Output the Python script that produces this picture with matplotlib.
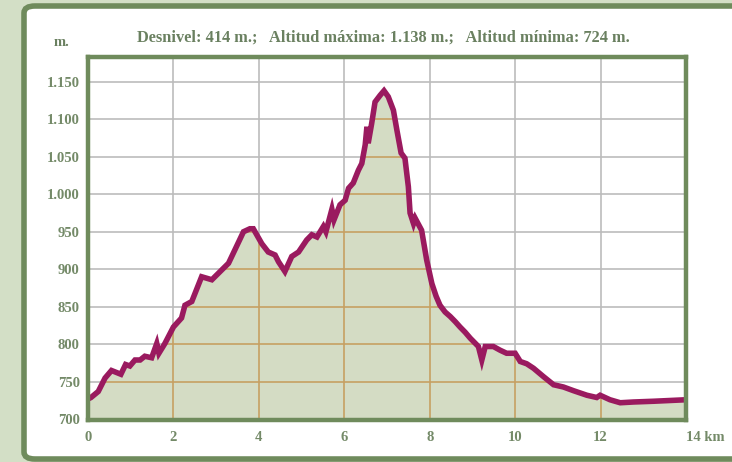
import numpy as np
import matplotlib.pyplot as plt
from matplotlib.patches import FancyBboxPatch

# perfil de altitud (km, m)
km = [0.0, 0.07, 0.24, 0.40, 0.55, 0.77, 0.88, 0.98, 1.10, 1.22, 1.33, 1.49, 1.61, 1.66,
      1.80, 2.00, 2.19, 2.27, 2.43, 2.66, 2.90, 3.13, 3.29, 3.44, 3.64, 3.79, 3.87, 4.07,
      4.22, 4.38, 4.46, 4.61, 4.77, 4.93, 5.12, 5.24, 5.36, 5.51, 5.57, 5.71, 5.76, 5.90,
      6.02, 6.10, 6.21, 6.33, 6.41, 6.49, 6.53, 6.56, 6.64, 6.72, 6.84, 6.93, 7.03, 7.15,
      7.23, 7.33, 7.42, 7.50, 7.54, 7.62, 7.66, 7.81, 7.93, 8.05, 8.15, 8.24, 8.36, 8.48,
      8.60, 8.71, 8.83, 8.95, 9.14, 9.22, 9.30, 9.49, 9.65, 9.80, 10.00, 10.12, 10.27,
      10.43, 10.66, 10.90, 11.13, 11.37, 11.68, 11.91, 11.99, 12.22, 12.46, 12.77, 13.24,
      14.0]
alt = [727, 729, 737, 755, 765, 760, 773, 771, 779, 779, 784, 782, 801, 788,
       801, 823, 835, 852, 857, 890, 886, 899, 908, 926, 950, 954, 954, 934,
       923, 919, 910, 897, 917, 923, 939, 946, 943, 957, 950, 980, 966, 986,
       992, 1008, 1015, 1032, 1041, 1066, 1090, 1068, 1094, 1123, 1132, 1138, 1130, 1112,
       1086, 1055, 1048, 1010, 975, 961, 968, 952, 912, 881, 864, 852, 843, 837,
       830, 823, 816, 808, 797, 779, 797, 797, 792, 788, 788, 777, 774,
       768, 757, 746, 743, 738, 732, 729, 732, 726, 722, 723, 724,
       726]

yticks = [700, 750, 800, 850, 900, 950, 1000, 1050, 1100, 1150]
ylabels = ["700", "750", "800", "850", "900", "950", "1.000", "1.050", "1.100", "1.150"]
xticks = [0, 2, 4, 6, 8, 10, 12, 14]
xlabels = ["0", "2", "4", "6", "8", "10", "12", "14 km"]
titulo = "Desnivel: 414 m.;   Altitud máxima: 1.138 m.;   Altitud mínima: 724 m."

verde_osc = "#6f8b5c"
texto = "#6a8060"
plt.rcParams["font.family"] = ["Liberation Serif", "DejaVu Serif"]

fig = plt.figure(figsize=(7.32, 4.62), dpi=100)
fig.patch.set_facecolor("#d3dfc6")
caja = FancyBboxPatch((24 / 732, 3 / 462), 740 / 732, 453 / 462,
                      boxstyle="round,pad=0,rounding_size=0.015",
                      transform=fig.transFigure, facecolor="white",
                      edgecolor=verde_osc, linewidth=4, zorder=-5)
fig.patches.append(caja)

ax = fig.add_axes([88 / 732, 1 - 420 / 462, 598 / 732, 363 / 462])
ax.set_zorder(2)
ax.set_xlim(0, 14)
ax.set_ylim(699, 1183)
ax.set_facecolor("white")

# rejilla gris
for x in xticks[1:-1]:
    ax.axvline(x, color="#bcbcbc", lw=1.2, zorder=1)
for y in yticks[1:]:
    ax.axhline(y, color="#bcbcbc", lw=1.2, zorder=1)

relleno = ax.fill_between(km, alt, 690, color="#d4dcc4", zorder=2, lw=0)
clip = relleno.get_paths()[0]
# rejilla bajo el perfil, tono tostado
for x in xticks[1:-1]:
    l = ax.axvline(x, color="#c6a062", lw=1.2, zorder=3)
    l.set_clip_path(clip, ax.transData)
for y in yticks[1:]:
    l = ax.axhline(y, color="#c6a062", lw=1.2, zorder=3)
    l.set_clip_path(clip, ax.transData)

ax.plot(km, alt, color="#9a1a5f", lw=4, solid_joinstyle="miter", zorder=4)

for s in ax.spines.values():
    s.set_color(verde_osc)
    s.set_linewidth(3.2)
    s.set_zorder(5)

ax.set_yticks(yticks)
ax.set_yticklabels(ylabels)
ax.set_xticks(xticks)
ax.set_xticklabels(xlabels)
ax.tick_params(length=0, colors="#748a68", labelsize=10.5)
ax.tick_params(axis="y", pad=6)
ax.tick_params(axis="x", pad=8)
for t in ax.get_xticklabels() + ax.get_yticklabels():
    t.set_fontweight("bold")
ax.get_xticklabels()[-1].set_horizontalalignment("left")
ax.get_xticklabels()[-1].set_x(13.75)

fig.text(54 / 732, 1 - 43 / 462, "m.", color=texto, fontsize=10.5, fontweight="bold",
         ha="left", va="center")
fig.text(383 / 732, 1 - 38 / 462, titulo, color=texto, fontsize=11.8, fontweight="bold",
         ha="center", va="center")

fig.savefig("out.png", dpi=100, facecolor=fig.get_facecolor())
